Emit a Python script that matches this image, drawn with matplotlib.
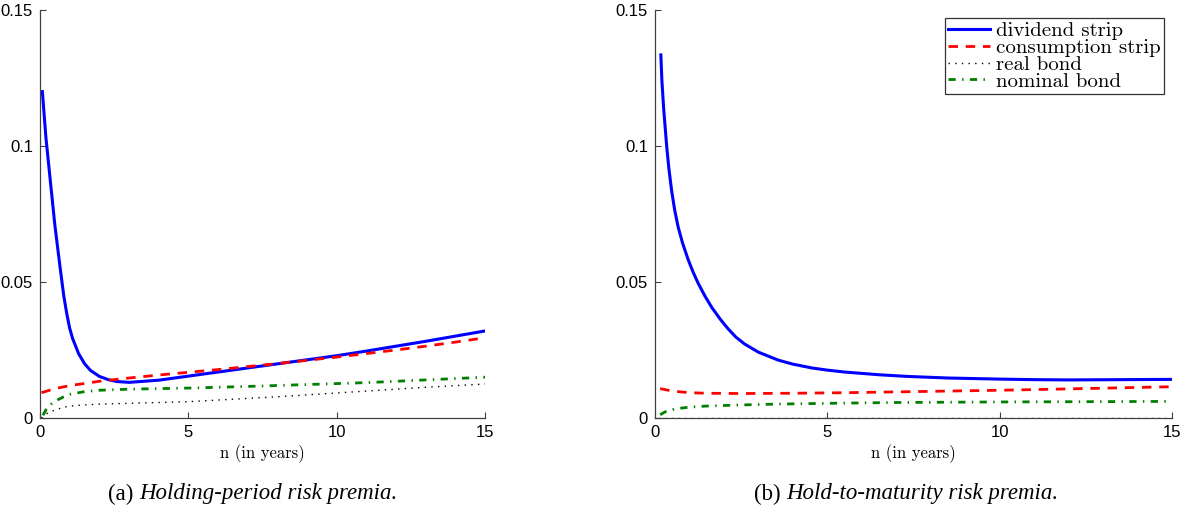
"""
    Risk premia on dividend strips, consumption strips and bonds
"""

import matplotlib
matplotlib.use('Agg')
import matplotlib.pyplot as plt

# ---- panel (a): holding-period risk premia ----
a_div_n = [0.08, 0.2, 0.35, 0.5, 0.67, 0.8, 0.9, 1.0, 1.1, 1.3, 1.5, 1.7, 2.0,
           2.3, 2.6, 3.0, 4.0, 5.0, 6.0, 7.0, 8.0, 9.0, 10.0, 11.0, 12.0, 13.0,
           14.0, 15.0]
a_div = [0.120, 0.103, 0.087, 0.071, 0.056, 0.045, 0.0385, 0.0330, 0.0292,
         0.0237, 0.0200, 0.0175, 0.0153, 0.0141, 0.0134, 0.0131, 0.0139, 0.0154,
         0.0169, 0.0184, 0.0199, 0.0214, 0.0229, 0.0246, 0.0264, 0.0282, 0.0301,
         0.0320]

a_cons_n = [0.05, 0.5, 1.0, 2.0, 3.0, 4.0, 5.0, 6.0, 7.0, 8.0, 9.0, 10.0,
            11.0, 12.0, 13.0, 14.0, 15.0]
a_cons = [0.0093, 0.0108, 0.0119, 0.0135, 0.0147, 0.0158, 0.0168, 0.0178,
          0.0189, 0.0200, 0.0212, 0.0224, 0.0237, 0.0250, 0.0264, 0.0279, 0.0295]

a_real_n = [0.05, 0.2, 0.4, 0.8, 1.2, 2.0, 3.0, 4.0, 5.0, 6.0, 7.0, 8.0, 9.0,
            10.0, 11.0, 12.0, 13.0, 14.0, 15.0]
a_real = [0.0, 0.0015, 0.0025, 0.0040, 0.0046, 0.0051, 0.0054, 0.0057, 0.0060,
          0.0066, 0.0072, 0.0078, 0.0085, 0.0092, 0.0099, 0.0106, 0.0113,
          0.0119, 0.0125]

a_nom_n = [0.1, 0.2, 0.4, 0.6, 0.8, 1.0, 1.5, 2.0, 3.0, 5.0, 7.0, 9.0, 11.0,
           13.0, 15.0]
a_nom = [0.0010, 0.0030, 0.0053, 0.0067, 0.0078, 0.0087, 0.0097, 0.0102,
         0.0106, 0.0110, 0.0116, 0.0123, 0.0130, 0.0140, 0.0150]

# ---- panel (b): hold-to-maturity risk premia ----
b_div_n = [0.17, 0.2, 0.25, 0.3, 0.34, 0.4, 0.48, 0.57, 0.67, 0.8, 0.96, 1.1,
           1.25, 1.45, 1.65, 1.9, 2.12, 2.35, 2.6, 3.0, 3.57, 4.0, 4.55, 5.0,
           5.5, 6.5, 7.3, 8.5, 10.0, 11.0, 12.0, 13.5, 15.0]
b_div = [0.1335, 0.124, 0.114, 0.106, 0.0998, 0.092, 0.0838, 0.0765, 0.0703,
         0.0643, 0.0583, 0.0538, 0.0496, 0.0448, 0.0406, 0.0362, 0.0328, 0.0297,
         0.0272, 0.0242, 0.0213, 0.0198, 0.0184, 0.0176, 0.0169, 0.0159, 0.0153,
         0.0147, 0.0143, 0.0141, 0.0140, 0.0141, 0.0142]

b_cons_n = [0.15, 0.5, 1.0, 1.5, 2.5, 4.0, 5.5, 7.0, 8.5, 10.0, 12.0, 13.5, 15.0]
b_cons = [0.0108, 0.0099, 0.0093, 0.0091, 0.0090, 0.0091, 0.0093, 0.0096,
          0.0099, 0.0102, 0.0107, 0.0111, 0.0115]

b_real_n = [0.1, 15.0]
b_real = [0.0, 0.0]

b_nom_n = [0.15, 0.3, 0.6, 1.0, 1.5, 2.5, 3.5, 5.0, 7.0, 10.0, 12.5, 15.0]
b_nom = [0.0012, 0.0023, 0.0034, 0.0040, 0.0044, 0.0048, 0.0051, 0.0054,
         0.0057, 0.0059, 0.0060, 0.0061]

labels = ['dividend strip', 'consumption strip', 'real bond', 'nominal bond']
captions = ['Holding-period risk premia.', 'Hold-to-maturity risk premia.']
xticks = [0, 5, 10, 15]
yticks = [0, 0.05, 0.1, 0.15]
ytick_labels = ['0', '0.05', '0.1', '0.15']

TICK_FONT = 'Liberation Sans'
CM_FONT = 'cmr10'
CAP_FONT = 'Liberation Serif'


def _style_axes(ax):
    """ MATLAB-like axes with box off """
    ax.set_xlim(0, 15)
    ax.set_ylim(0, 0.15)
    ax.spines['top'].set_visible(False)
    ax.spines['right'].set_visible(False)
    for side in ('left', 'bottom'):
        ax.spines[side].set_color('#404040')
        ax.spines[side].set_linewidth(0.9)
    ax.set_xticks(xticks)
    ax.set_xticklabels([str(t) for t in xticks])
    ax.set_yticks(yticks)
    ax.set_yticklabels(ytick_labels)
    ax.tick_params(direction='in', length=4, width=0.8, color='#404040',
                   labelsize=12, pad=5)
    for lab in ax.get_xticklabels() + ax.get_yticklabels():
        lab.set_family(TICK_FONT)
    ax.set_xlabel('n (in years)', family=CM_FONT, fontsize=12, labelpad=3)


def _plot_panel(ax, div, cons, real, nom):
    """ Draw the four series of one panel """
    ax.plot(div[0], div[1], color='#0000ff', lw=2.2, label=labels[0])
    ax.plot(cons[0], cons[1], color='#ff0000', lw=2.0,
            linestyle=(0, (3.4, 2.8)), label=labels[1])
    ax.plot(real[0], real[1], color='black', lw=1.0,
            linestyle=(0, (1, 3.8)), label=labels[2])
    ax.plot(nom[0], nom[1], color='#008000', lw=2.0,
            linestyle=(0, (2.6, 2.3, 0.5, 2.3)), label=labels[3])
    _style_axes(ax)


fig = plt.figure(figsize=(11.91, 5.18), dpi=100)
W, H = 1191.0, 518.0
ax1 = fig.add_axes([40 / W, (H - 418) / H, 445 / W, 408 / H])
ax2 = fig.add_axes([655 / W, (H - 418) / H, 517 / W, 408 / H])

_plot_panel(ax1, (a_div_n, a_div), (a_cons_n, a_cons),
            (a_real_n, a_real), (a_nom_n, a_nom))
_plot_panel(ax2, (b_div_n, b_div), (b_cons_n, b_cons),
            (b_real_n, b_real), (b_nom_n, b_nom))

leg = ax2.legend(loc='upper right', prop={'family': CM_FONT, 'size': 15},
                 frameon=True, fancybox=False, handlelength=2.0,
                 handletextpad=0.3, labelspacing=-0.08, borderpad=0.15,
                 borderaxespad=0.4)
leg.get_frame().set_edgecolor('black')
leg.get_frame().set_linewidth(0.9)

# sub-captions: "(a)" upright, title italic
for tag, cap, cx in (('(a) ', captions[0], 252), ('(b) ', captions[1], 906)):
    t = fig.text(cx / W, (H - 494) / H, tag + cap, family=CAP_FONT,
                 fontsize=16.5, ha='center', va='center', color='white')
    fig.canvas.draw()
    bb = t.get_window_extent()
    t.remove()
    t1 = fig.text(bb.x0 / W, (H - 494) / H, tag, family=CAP_FONT,
                  fontsize=16.5, ha='left', va='center')
    bb1 = t1.get_window_extent()
    fig.text(bb1.x1 / W, (H - 494) / H, cap, family=CAP_FONT,
             fontsize=16.5, style='italic', ha='left', va='center')

fig.savefig('out.png', dpi=100)
